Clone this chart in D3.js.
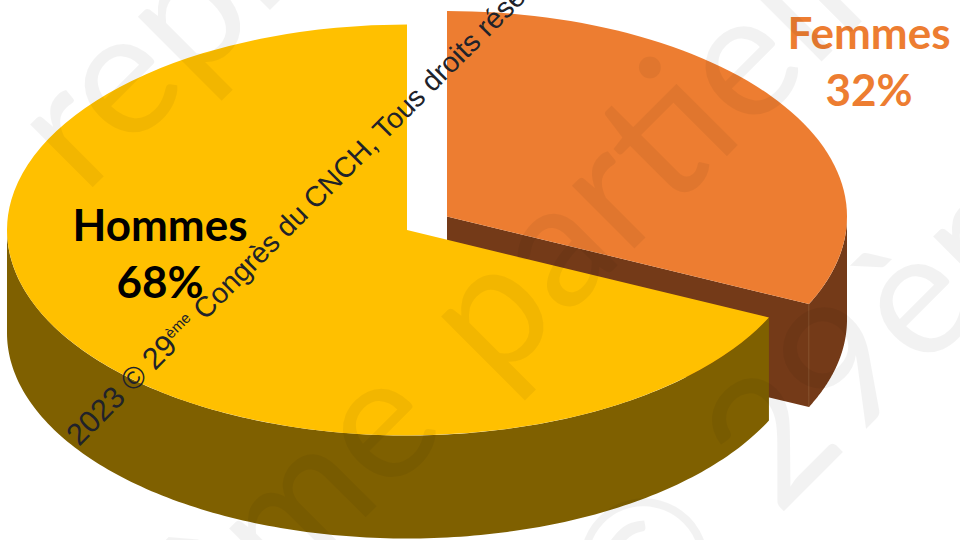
<!DOCTYPE html>
<html lang="fr">
<head>
<meta charset="utf-8">
<title>Répartition Hommes / Femmes</title>
<script src="https://cdn.jsdelivr.net/npm/d3@7/dist/d3.min.js"></script>
<style>
  html, body { margin: 0; padding: 0; background: #fff; }
  svg { display: block; }
</style>
</head>
<body>
<svg id="chart" width="960" height="540"></svg>
<script>
// Slices, clockwise from twelve o'clock
const categories = ["Femmes", "Hommes"];
const shares = [32, 68];

// Ink
const topColors = ["#ED7D31", "#FFC000"];
const wallColors = ["#743A18", "#7F6000"];
const labelColors = ["#ED7D31", "#000000"];

// Copyright line and background watermark
const copyrightParts = ["2023 © 29", "ème", " Congrès du CNCH, Tous droits réservés"];
const watermarkLead = ["même", "©"];
const watermarkTail = ["reproduction", "partielle", "29ème"];

// Geometry of the tilted disc
const rx = 400, ry = 205.5, depth = 103;
const slices = [
  { cx: 447, cy: 216.5, labelX: 869, labelY: [49, 106] },
  { cx: 407, cy: 230, labelX: 160, labelY: [241, 298] }
];
const watermarkTailAnchors = [[84, 196], [495, 388], [778, 517]];
const watermarkLeadAnchors = [[450, 433], [740, 555]];

const svg = d3.select("#chart");
const pie = d3.pie().value(d => d).sort(null);
const arcs = pie(shares);
const arc = d3.arc().innerRadius(0).outerRadius(rx);

// Screen position of a rim point, angle measured clockwise from the top
const rimX = (s, a) => s.cx + rx * Math.sin(a);
const rimY = (s, a) => s.cy - ry * Math.cos(a);

// Outer wall between two angles, only where it faces the viewer
function wallPath(s, a0, a1) {
  const n = 160;
  const scale = d3.scaleLinear().domain([0, n]).range([a0, a1]);
  const angles = d3.range(n + 1).map(scale);
  const upper = angles.map(a => [rimX(s, a), rimY(s, a)]);
  const lower = angles.slice().reverse().map(a => [rimX(s, a), rimY(s, a) + depth]);
  return d3.line()(upper.concat(lower)) + "Z";
}

// Straight cut face running from the centre out to the rim
function cutFacePath(s, a) {
  const x = rimX(s, a), y = rimY(s, a);
  return d3.line()([[s.cx, s.cy], [x, y], [x, y + depth], [s.cx, s.cy + depth]]) + "Z";
}

const discs = svg.append("g");
arcs.forEach((d, i) => {
  const s = slices[i];
  const g = discs.append("g");
  const frontStart = Math.max(d.startAngle, Math.PI / 2);
  const frontEnd = Math.min(d.endAngle, Math.PI * 1.5);

  if (i === 0) {
    g.append("path")
      .attr("d", cutFacePath(s, d.endAngle))
      .attr("fill", wallColors[i]);
  }
  g.append("path")
    .attr("d", wallPath(s, frontStart, frontEnd))
    .attr("fill", wallColors[i]);
  if (i === 0) {
    // faint seam where the cut face meets the rim
    g.append("line")
      .attr("x1", rimX(s, d.endAngle)).attr("x2", rimX(s, d.endAngle))
      .attr("y1", rimY(s, d.endAngle)).attr("y2", rimY(s, d.endAngle) + depth)
      .attr("stroke", "#8a532c").attr("stroke-width", 0.7);
  }
  g.append("path")
    .attr("transform", `translate(${s.cx},${s.cy}) scale(1,${ry / rx})`)
    .attr("d", arc(d))
    .attr("fill", topColors[i]);
});

// Black copyright line along the diagonal
const copyright = svg.append("text")
  .attr("transform", "translate(79,447) rotate(-45)")
  .attr("font-family", "'Liberation Sans', Arial, sans-serif")
  .attr("font-size", 28.6)
  .attr("fill", "#20222a");
copyright.append("tspan").attr("font-size", 30.5).text(copyrightParts[0]);
copyright.append("tspan").attr("font-size", 15).attr("dy", -11).text(copyrightParts[1]);
copyright.append("tspan").attr("dy", 11).text(copyrightParts[2]);

// Slice labels
arcs.forEach((d, i) => {
  const s = slices[i];
  const label = svg.append("text")
    .attr("font-family", "Lato, sans-serif")
    .attr("font-weight", 700)
    .attr("font-size", 44)
    .attr("text-anchor", "middle")
    .attr("fill", labelColors[i]);
  label.append("tspan").attr("x", s.labelX).attr("y", s.labelY[0]).text(categories[i]);
  label.append("tspan").attr("x", s.labelX).attr("y", s.labelY[1]).text(d3.format("d")(d.data) + "%");
});

// Large translucent watermark on top of everything
const mark = svg.append("g")
  .attr("font-family", "Lato, sans-serif")
  .attr("font-size", 175)
  .attr("fill", "#000")
  .attr("fill-opacity", 0.05);
mark.selectAll("text.lead").data(watermarkLead).join("text")
  .attr("class", "lead")
  .attr("text-anchor", "end")
  .attr("transform", (d, i) => `translate(${watermarkLeadAnchors[i][0]},${watermarkLeadAnchors[i][1]}) rotate(-45)`)
  .text(d => d);
mark.selectAll("text.tail").data(watermarkTail).join("text")
  .attr("class", "tail")
  .attr("transform", (d, i) => `translate(${watermarkTailAnchors[i][0]},${watermarkTailAnchors[i][1]}) rotate(-45)`)
  .text(d => d);
</script>
</body>
</html>
